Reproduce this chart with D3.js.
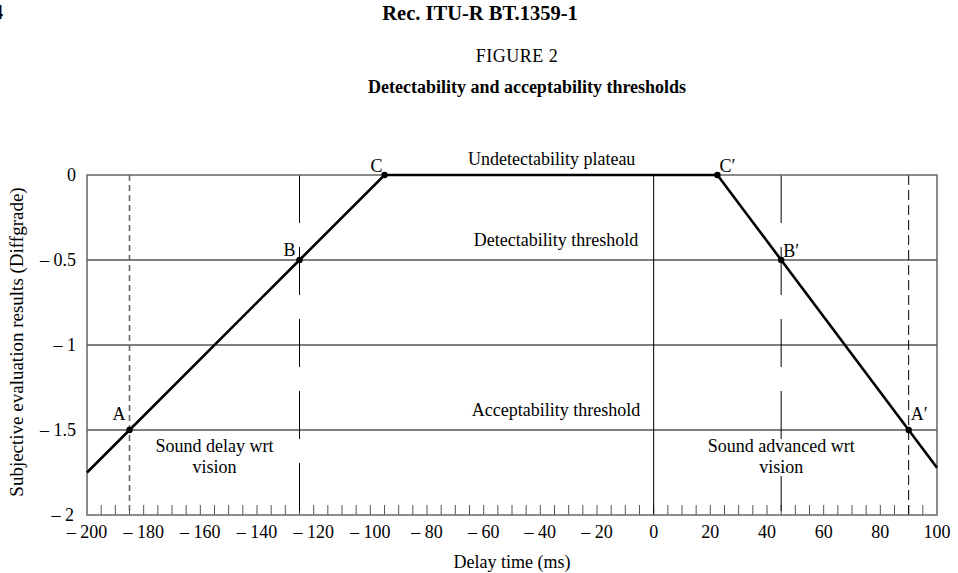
<!DOCTYPE html>
<html>
<head>
<meta charset="utf-8">
<script src="https://cdn.jsdelivr.net/npm/d3@7"></script>
<style>
  body { margin: 0; background: #fff; }
  svg { display: block; font-family: "Liberation Serif", "DejaVu Serif", serif; }
</style>
</head>
<body>
<svg id="chart"></svg>
<script>
// Curve through the threshold points (delay in ms, diffgrade)
const delays = [-200, -185, -125, -95, 22.5, 45, 90, 100];
const grades = [-1.75, -1.5, -0.5, 0, 0, -0.5, -1.5, -1.722];

// Marked points
const pointNames = ['A', 'B', 'C', 'C′', 'B′', 'A′'];
const pointDelays = [-185, -125, -95, 22.5, 45, 90];
const pointGrades = [-1.5, -0.5, 0, 0, -0.5, -1.5];

const xTicks = [-200, -180, -160, -140, -120, -100, -80, -60, -40, -20, 0, 20, 40, 60, 80, 100];
const yTicks = [0, -0.5, -1, -1.5, -2];
const hLines = [-0.5, -1, -1.5];

const width = 958, height = 573;
const margin = { top: 175, right: 21, bottom: 58, left: 87 };
const innerWidth = width - margin.left - margin.right;
const innerHeight = height - margin.top - margin.bottom;

const fmt = v => v < 0 ? '– ' + String(-v) : String(v);

const svg = d3.select('#chart')
  .attr('width', width)
  .attr('height', height);

// Header text
svg.append('text').attr('x', -7).attr('y', 19)
  .style('font-size', '20px').style('font-weight', 'bold').text('4');
svg.append('text').attr('x', 480).attr('y', 20).attr('text-anchor', 'middle')
  .style('font-size', '20.5px').style('font-weight', 'bold').text('Rec. ITU-R BT.1359-1');
svg.append('text').attr('x', 517).attr('y', 62).attr('text-anchor', 'middle')
  .style('font-size', '18px').style('letter-spacing', '0.5px').text('FIGURE 2');
svg.append('text').attr('x', 527).attr('y', 93).attr('text-anchor', 'middle')
  .style('font-size', '18px').style('font-weight', 'bold').text('Detectability and acceptability thresholds');

const g = svg.append('g')
  .attr('transform', `translate(${margin.left},${margin.top})`);

const x = d3.scaleLinear().domain([-200, 100]).range([0, innerWidth]);
const y = d3.scaleLinear().domain([-2, 0]).range([innerHeight, 0]);

// Horizontal grid
g.selectAll('.hline')
  .data(hLines)
  .enter()
  .append('line')
  .attr('x1', 0).attr('x2', innerWidth)
  .attr('y1', d => y(d)).attr('y2', d => y(d))
  .attr('stroke', '#000').attr('stroke-width', 1);

// Minor ticks along the bottom every 5 ms
const minor = d3.range(-195, 100, 5);
g.selectAll('.minor')
  .data(minor)
  .enter()
  .append('line')
  .attr('x1', d => x(d)).attr('x2', d => x(d))
  .attr('y1', innerHeight).attr('y2', innerHeight - 10)
  .attr('stroke', '#555').attr('stroke-width', 1);

// Vertical reference lines
const vLines = [
  { v: -185, dash: '6,4', color: '#666', w: 1.6 },
  { v: -125, dash: '48,24', color: '#000', w: 1 },
  { v: 0, dash: null, color: '#000', w: 1 },
  { v: 45, dash: '48,24', color: '#000', w: 1 },
  { v: 90, dash: '10,5', color: '#000', w: 1 }
];
g.selectAll('.vline')
  .data(vLines)
  .enter()
  .append('line')
  .attr('x1', d => x(d.v)).attr('x2', d => x(d.v))
  .attr('y1', 0).attr('y2', innerHeight)
  .attr('stroke', d => d.color)
  .attr('stroke-width', d => d.w)
  .attr('stroke-dasharray', d => d.dash);

// Frame
g.append('rect')
  .attr('width', innerWidth).attr('height', innerHeight)
  .attr('fill', 'none').attr('stroke', '#666').attr('stroke-width', 1.5);

// Annotation texts with white backing
const notes = [
  { t: 'Sound delay wrt', x: -155, y: -1.63 },
  { t: 'vision', x: -155, y: -1.75 },
  { t: 'Sound advanced wrt', x: 45, y: -1.63 },
  { t: 'vision', x: 45, y: -1.75 }
];
g.selectAll('.note')
  .data(notes)
  .enter()
  .append('text')
  .attr('x', d => x(d.x)).attr('y', d => y(d.y))
  .attr('text-anchor', 'middle')
  .style('font-size', '18px')
  .style('paint-order', 'stroke')
  .style('stroke', '#fff').style('stroke-width', '6px')
  .text(d => d.t);

g.append('text').attr('x', x(-36)).attr('y', -10).attr('text-anchor', 'middle')
  .style('font-size', '18px').text('Undetectability plateau');
g.append('text').attr('x', x(-34.5)).attr('y', y(-0.42)).attr('text-anchor', 'middle')
  .style('font-size', '18px').text('Detectability threshold');
g.append('text').attr('x', x(-34.5)).attr('y', y(-1.42)).attr('text-anchor', 'middle')
  .style('font-size', '18px').text('Acceptability threshold');

// Curve
const line = d3.line()
  .x(d => x(d))
  .y((d, i) => y(grades[i]));
g.append('path')
  .datum(delays)
  .attr('fill', 'none')
  .attr('stroke', '#000')
  .attr('stroke-width', 2.6)
  .attr('d', line);

g.selectAll('.dot')
  .data(pointDelays)
  .enter()
  .append('circle')
  .attr('cx', d => x(d))
  .attr('cy', (d, i) => y(pointGrades[i]))
  .attr('r', 3.2)
  .attr('fill', '#000');

// Point labels: left side labels sit to the left, right side to the right
const labelOff = [[-4, -10, 'end'], [-4, -4, 'end'], [-2, -3, 'end'], [2, -3, 'start'], [2, -3, 'start'], [2, -10, 'start']];
g.selectAll('.plabel')
  .data(pointNames)
  .enter()
  .append('text')
  .attr('x', (d, i) => x(pointDelays[i]) + labelOff[i][0])
  .attr('y', (d, i) => y(pointGrades[i]) + labelOff[i][1])
  .attr('text-anchor', (d, i) => labelOff[i][2])
  .style('font-size', '18px')
  .text(d => d);

// Axis tick labels
g.selectAll('.xt')
  .data(xTicks)
  .enter()
  .append('text')
  .attr('x', d => x(d))
  .attr('y', innerHeight + 23)
  .attr('text-anchor', 'middle')
  .style('font-size', '18px')
  .text(fmt);

g.selectAll('.yt')
  .data(yTicks)
  .enter()
  .append('text')
  .attr('x', d => d === -2 ? -13 : -11)
  .attr('y', d => y(d) + 6)
  .attr('text-anchor', 'end')
  .style('font-size', '18px')
  .text(fmt);

// Axis titles
svg.append('text')
  .attr('x', margin.left + innerWidth / 2)
  .attr('y', 568)
  .attr('text-anchor', 'middle')
  .style('font-size', '18px')
  .text('Delay time (ms)');

svg.append('text')
  .attr('transform', 'rotate(-90)')
  .attr('x', -342)
  .attr('y', 23)
  .attr('text-anchor', 'middle')
  .style('font-size', '19px')
  .text('Subjective evaluation results (Diffgrade)');
</script>
</body>
</html>
